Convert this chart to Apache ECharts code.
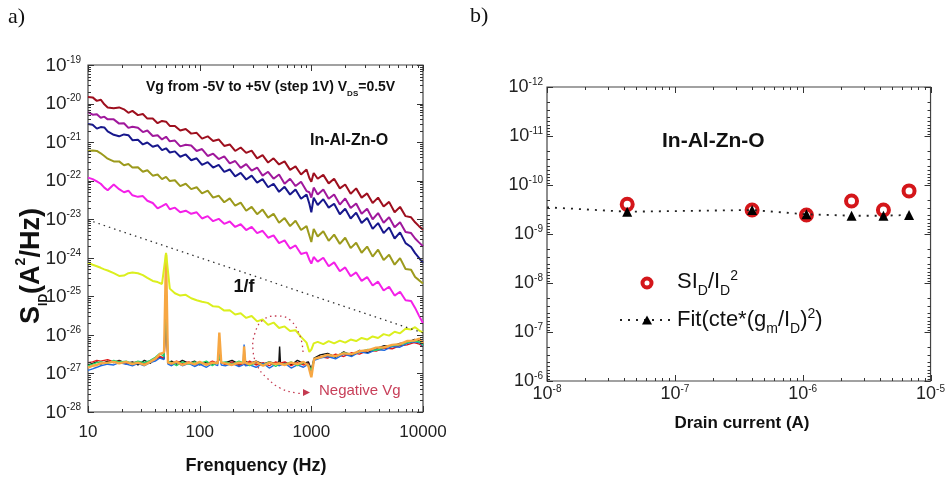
<!DOCTYPE html>
<html><head><meta charset="utf-8">
<script src="https://cdn.jsdelivr.net/npm/echarts@6/dist/echarts.min.js"></script>
<style>html,body{margin:0;padding:0;background:#fff}#c{width:948px;height:478px}</style>
</head><body><div id="c"></div><script>
// ===== DATA (panel a): frequency (Hz) and log10 of S_ID (A^2/Hz) =====
const FREQ = [10,11,12,13,14,15,17,19,21,23,25,28,31,34,38,42,46,50,54,60,67,75,84,94,105,118,132,148,166,186,208,233,261,292,327,366,410,459,514,576,645,722,809,906,960,1000,1050,1140,1280,1430,1600,1800,2010,2250,2520,2820,3160,3540,3960,4440,4970,5570,6230,6980,7820,8500,9200,10000];
const logS_darkred = [-19.83,-19.84,-19.93,-19.90,-20.02,-20.10,-20.12,-20.10,-20.15,-20.24,-20.19,-20.30,-20.27,-20.39,-20.39,-20.51,-20.45,-20.47,-20.58,-20.58,-20.70,-20.66,-20.78,-20.76,-20.91,-20.85,-20.97,-20.93,-21.10,-21.06,-21.23,-21.14,-21.28,-21.22,-21.42,-21.34,-21.53,-21.42,-21.58,-21.50,-21.72,-21.63,-21.84,-21.71,-21.93,-22.03,-21.80,-21.95,-21.85,-22.07,-21.95,-22.20,-22.10,-22.34,-22.20,-22.44,-22.33,-22.58,-22.44,-22.67,-22.55,-22.82,-22.68,-22.92,-22.95,-23.08,-23.18,-23.27];
const logS_purple = [-20.22,-20.29,-20.28,-20.37,-20.34,-20.41,-20.41,-20.52,-20.51,-20.63,-20.60,-20.63,-20.74,-20.70,-20.84,-20.82,-20.93,-20.86,-20.98,-20.96,-21.11,-21.07,-21.09,-21.23,-21.18,-21.36,-21.30,-21.44,-21.37,-21.55,-21.49,-21.67,-21.57,-21.74,-21.66,-21.87,-21.77,-21.95,-21.84,-22.08,-21.95,-22.14,-22.03,-22.27,-22.30,-22.44,-22.18,-22.36,-22.23,-22.47,-22.36,-22.62,-22.46,-22.71,-22.59,-22.86,-22.73,-23.00,-22.84,-23.09,-22.95,-23.21,-23.08,-23.33,-23.36,-23.50,-23.60,-23.70];
const logS_navy = [-20.53,-20.55,-20.65,-20.61,-20.62,-20.72,-20.81,-20.85,-20.80,-20.82,-20.95,-20.94,-21.06,-21.01,-21.12,-21.08,-21.21,-21.16,-21.27,-21.24,-21.38,-21.32,-21.47,-21.42,-21.59,-21.52,-21.66,-21.59,-21.77,-21.71,-21.89,-21.80,-21.97,-21.87,-22.05,-21.96,-22.17,-22.08,-22.29,-22.16,-22.36,-22.23,-22.47,-22.36,-22.60,-22.82,-22.44,-22.63,-22.48,-22.70,-22.60,-22.87,-22.73,-22.98,-22.83,-23.10,-22.97,-23.25,-23.10,-23.36,-23.21,-23.50,-23.34,-23.62,-23.72,-23.88,-24.00,-24.13];
const logS_olive = [-21.23,-21.22,-21.23,-21.29,-21.36,-21.43,-21.50,-21.50,-21.60,-21.57,-21.66,-21.65,-21.77,-21.73,-21.87,-21.84,-21.96,-21.90,-22.01,-21.99,-22.14,-22.08,-22.22,-22.17,-22.33,-22.26,-22.44,-22.39,-22.56,-22.46,-22.65,-22.57,-22.78,-22.68,-22.87,-22.75,-22.96,-22.86,-23.09,-22.97,-23.18,-23.04,-23.28,-23.18,-23.42,-23.59,-23.25,-23.45,-23.31,-23.56,-23.40,-23.64,-23.48,-23.75,-23.61,-23.87,-23.71,-23.97,-23.79,-24.06,-23.92,-24.18,-24.01,-24.29,-24.31,-24.50,-24.58,-24.67];
const logS_magenta = [-21.92,-21.96,-22.02,-22.08,-22.18,-22.25,-22.10,-22.22,-22.30,-22.26,-22.38,-22.42,-22.40,-22.52,-22.58,-22.72,-22.66,-22.60,-22.74,-22.70,-22.82,-22.78,-22.86,-22.82,-22.98,-22.92,-23.05,-22.99,-23.12,-23.06,-23.20,-23.13,-23.28,-23.20,-23.36,-23.30,-23.48,-23.42,-23.62,-23.55,-23.76,-23.68,-23.90,-23.86,-24.05,-24.15,-23.98,-24.10,-24.00,-24.22,-24.12,-24.35,-24.25,-24.48,-24.38,-24.60,-24.50,-24.72,-24.62,-24.85,-24.75,-24.98,-24.88,-25.10,-25.12,-25.30,-25.50,-25.70];
const logS_yellow = [-24.13,-24.18,-24.22,-24.26,-24.30,-24.33,-24.40,-24.47,-24.46,-24.40,-24.38,-24.40,-24.45,-24.52,-24.60,-24.63,-24.68,-23.87,-24.80,-24.92,-24.98,-24.96,-25.05,-25.10,-25.14,-25.17,-25.26,-25.27,-25.37,-25.36,-25.47,-25.44,-25.56,-25.51,-25.65,-25.60,-25.74,-25.68,-25.82,-25.78,-25.90,-25.88,-26.05,-26.20,-26.44,-26.38,-26.22,-26.18,-26.24,-26.16,-26.22,-26.15,-26.20,-26.12,-26.16,-26.08,-26.12,-26.04,-26.08,-25.98,-26.02,-25.92,-25.96,-25.84,-25.86,-25.80,-25.88,-25.94];
// negative Vg (noise floor) curves
const FREQ_FLOOR = [10,11,12,13,15,17,19,22,25,28,32,36,40,44,48,50,52,56,62,70,80,90,100,115,130,145,150,156,170,195,225,245,250,256,280,320,370,420,480,512,520,530,580,660,750,850,940,1000,1060,1200,1400,1650,1950,2300,2700,3200,3800,4500,5300,6200,7200,8300,9300,10000];
const logS_floor_black = [-26.78,-26.74,-26.70,-26.76,-26.68,-26.72,-26.66,-26.74,-26.70,-26.78,-26.66,-26.74,-26.60,-26.58,-26.62,-25.20,-26.74,-26.68,-26.76,-26.66,-26.74,-26.68,-26.78,-26.70,-26.76,-26.70,-26.50,-26.74,-26.72,-26.66,-26.76,-26.72,-26.70,-26.68,-26.74,-26.68,-26.76,-26.70,-26.74,-26.70,-26.30,-26.76,-26.72,-26.78,-26.66,-26.74,-26.70,-26.90,-26.60,-26.52,-26.48,-26.58,-26.44,-26.54,-26.40,-26.46,-26.36,-26.28,-26.30,-26.22,-26.20,-26.12,-26.14,-26.25];
const logS_floor_red = [-26.72,-26.70,-26.66,-26.68,-26.64,-26.70,-26.68,-26.76,-26.72,-26.70,-26.76,-26.68,-26.64,-26.56,-26.60,-25.50,-26.70,-26.76,-26.68,-26.74,-26.70,-26.78,-26.72,-26.76,-26.68,-26.74,-26.60,-26.70,-26.78,-26.70,-26.80,-26.74,-26.72,-26.78,-26.68,-26.78,-26.72,-26.80,-26.70,-26.74,-26.76,-26.70,-26.70,-26.80,-26.72,-26.78,-26.74,-26.95,-26.64,-26.56,-26.60,-26.50,-26.56,-26.46,-26.50,-26.40,-26.42,-26.34,-26.36,-26.28,-26.26,-26.20,-26.24,-26.30];
const logS_floor_blue = [-26.92,-26.88,-26.84,-26.80,-26.76,-26.78,-26.72,-26.76,-26.80,-26.74,-26.80,-26.72,-26.68,-26.60,-26.64,-24.60,-26.76,-26.80,-26.72,-26.80,-26.74,-26.82,-26.76,-26.84,-26.74,-26.80,-26.40,-26.78,-26.80,-26.74,-26.82,-26.78,-26.25,-26.80,-26.78,-26.84,-26.74,-26.86,-26.76,-26.80,-26.82,-26.76,-26.74,-26.86,-26.78,-26.84,-26.76,-27.00,-26.66,-26.60,-26.56,-26.62,-26.50,-26.56,-26.44,-26.48,-26.38,-26.40,-26.30,-26.32,-26.22,-26.18,-26.20,-26.28];
const logS_floor_green = [-26.80,-26.76,-26.72,-26.70,-26.74,-26.66,-26.70,-26.68,-26.74,-26.68,-26.72,-26.66,-26.58,-26.48,-26.56,-25.00,-26.68,-26.72,-26.80,-26.70,-26.76,-26.70,-26.74,-26.68,-26.80,-26.70,-26.56,-26.72,-26.70,-26.76,-26.68,-26.72,-26.74,-26.70,-26.80,-26.72,-26.78,-26.70,-26.82,-26.76,-26.72,-26.78,-26.76,-26.70,-26.80,-26.72,-26.78,-26.92,-26.62,-26.58,-26.52,-26.56,-26.46,-26.50,-26.44,-26.38,-26.40,-26.32,-26.28,-26.26,-26.20,-26.16,-26.18,-26.26];
const logS_floor_orange = [-26.85,-26.80,-26.78,-26.74,-26.72,-26.70,-26.74,-26.70,-26.76,-26.72,-26.78,-26.70,-26.62,-26.50,-26.45,-23.92,-26.72,-26.74,-26.70,-26.78,-26.72,-26.76,-26.70,-26.78,-26.72,-26.74,-25.94,-26.72,-26.74,-26.78,-26.72,-26.74,-26.30,-26.72,-26.76,-26.70,-26.80,-26.72,-26.76,-26.74,-26.70,-26.76,-26.78,-26.72,-26.76,-26.70,-26.80,-27.10,-26.62,-26.58,-26.52,-26.55,-26.48,-26.50,-26.42,-26.40,-26.33,-26.32,-26.26,-26.24,-26.16,-26.15,-26.10,-26.22];
// 1/f guide line
const ONE_OVER_F_FREQ = [10, 10000];
const ONE_OVER_F_LOGS = [-23.02, -25.95];
// ===== DATA (panel b) =====
const ID_MEAS = [4.24e-8, 4.02e-7, 1.07e-6, 2.41e-6, 4.28e-6, 6.79e-6];
const SID_OVER_ID2 = [2.48e-10, 3.24e-10, 4.09e-10, 2.12e-10, 3.24e-10, 1.32e-10];
const FIT_ID = [1e-8, 4.24e-8, 4.02e-7, 1.07e-6, 2.41e-6, 4.28e-6, 6.79e-6];
const FIT_VAL = [2.85e-10, 3.51e-10, 3.24e-10, 3.96e-10, 4.24e-10, 4.24e-10, 4.09e-10];
// tick ranges (decades)
const A_X_DECADES = [1, 4];     // 10 .. 10000 Hz
const A_Y_DECADES = [-28, -19];
const B_X_DECADES = [-8, -5];
const B_Y_DECADES = [-12, -6];

// ===== CHART =====
const FF = '"Liberation Sans", Arial, sans-serif';
const L10 = Math.log10;
const chart = echarts.init(document.getElementById('c'), null, {renderer: 'canvas'});

function curve(fr, logs, color, width, z) {
  return {type: 'line', xAxisIndex: 0, yAxisIndex: 0, data: fr.map((f, i) => [L10(f), logs[i]]),
    showSymbol: false, symbol: 'none', lineStyle: {color: color, width: width}, z: z, silent: true, animation: false};
}
function tickItems(dec, ref) {
  const out = [];
  for (let d = dec[0]; d <= dec[1]; d++) {
    out.push([d, ref, 6]);
    if (d < dec[1]) for (let m = 2; m <= 9; m++) out.push([d + L10(m), ref, 3]);
  }
  return out;
}
function tickLine(x1, y1, x2, y2) {
  return {type: 'line', shape: {x1, y1, x2, y2}, style: {stroke: '#333', lineWidth: 1}};
}
function xTicks(params, api) {
  const cs = params.coordSys;
  const px = Math.round(api.coord([api.value(0), api.value(1)])[0]) + 0.5;
  const L = api.value(2), b = cs.y + cs.height;
  return {type: 'group', children: [tickLine(px, b, px, b - L), tickLine(px, cs.y, px, cs.y + L)]};
}
function yTicks(params, api) {
  const cs = params.coordSys;
  const py = Math.round(api.coord([api.value(1), api.value(0)])[1]) + 0.5;
  const L = api.value(2), r = cs.x + cs.width;
  return {type: 'group', children: [tickLine(cs.x, py, cs.x + L, py), tickLine(r, py, r - L, py)]};
}
function customTicks(xi, items, fn) {
  return {type: 'custom', xAxisIndex: xi, yAxisIndex: xi, silent: true, animation: false, clip: false, z: 20,
    renderItem: fn, data: items, encode: fn === xTicks ? {x: 0, y: 1} : {x: 1, y: 0}};
}
const supRich = (bs, ss, up) => ({
  b: {fontSize: bs, fontFamily: FF, color: '#222', verticalAlign: 'bottom'},
  s: {fontSize: ss, fontFamily: FF, color: '#222', verticalAlign: 'bottom', padding: [0, 0, up, 0]}
});
const supFmt = v => '{b|10}{s|' + Math.round(v) + '}';
const RED = '#d4161a';

const option = {
  animation: false,
  backgroundColor: '#fff',
  grid: [
    {left: 88, top: 65, width: 335, height: 347, show: true, borderColor: '#444', borderWidth: 1.2, backgroundColor: 'transparent'},
    {left: 547, top: 87, width: 389, height: 294, show: true, borderColor: '#444', borderWidth: 1.2, backgroundColor: 'transparent'}
  ],
  xAxis: [
    {gridIndex: 0, type: 'value', min: A_X_DECADES[0], max: A_X_DECADES[1], interval: 1,
      axisLine: {show: false}, axisTick: {show: false}, splitLine: {show: false},
      axisLabel: {margin: 12, fontSize: 17, color: '#222', fontFamily: FF, formatter: v => String(Math.round(Math.pow(10, v)))}},
    {gridIndex: 1, type: 'value', min: B_X_DECADES[0], max: B_X_DECADES[1], interval: 1,
      axisLine: {show: false}, axisTick: {show: false}, splitLine: {show: false},
      axisLabel: {margin: 3, formatter: supFmt, rich: supRich(18, 10, 9)}}
  ],
  yAxis: [
    {gridIndex: 0, type: 'value', min: A_Y_DECADES[0], max: A_Y_DECADES[1], interval: 1,
      axisLine: {show: false}, axisTick: {show: false}, splitLine: {show: false},
      axisLabel: {margin: 7, formatter: supFmt, rich: supRich(19, 10, 10)}},
    {gridIndex: 1, type: 'value', min: B_Y_DECADES[0], max: B_Y_DECADES[1], interval: 1, inverse: true,
      axisLine: {show: false}, axisTick: {show: false}, splitLine: {show: false},
      axisLabel: {margin: 4, formatter: supFmt, rich: supRich(18, 10, 9)}}
  ],
  series: [
    curve(FREQ_FLOOR, logS_floor_black, '#111111', 1.4, 2),
    curve(FREQ_FLOOR, logS_floor_red, '#e01818', 1.4, 2),
    curve(FREQ_FLOOR, logS_floor_blue, '#1f6be0', 1.4, 2),
    curve(FREQ_FLOOR, logS_floor_green, '#24d86a', 1.4, 2),
    curve(FREQ_FLOOR, logS_floor_orange, '#f7a743', 2.4, 3),
    curve(FREQ, logS_yellow, '#dbef1e', 2, 4),
    curve(FREQ, logS_magenta, '#f420e8', 2, 5),
    curve(FREQ, logS_olive, '#9c9a1c', 2, 5),
    curve(FREQ, logS_navy, '#17178c', 2, 5),
    curve(FREQ, logS_purple, '#a0189c', 2, 5),
    curve(FREQ, logS_darkred, '#9e0f1e', 2, 5),
    {type: 'line', xAxisIndex: 0, yAxisIndex: 0, data: ONE_OVER_F_FREQ.map((f, i) => [L10(f), ONE_OVER_F_LOGS[i]]),
      symbol: 'none', lineStyle: {color: '#333', width: 1.3, type: [1.5, 4]}, z: 6, silent: true},
    // panel b
    {type: 'line', xAxisIndex: 1, yAxisIndex: 1,
      data: FIT_ID.map((x, i) => ({value: [L10(x), L10(FIT_VAL[i])], symbol: i === 0 ? 'none' : 'triangle'})),
      symbol: 'triangle', symbolSize: 10, showSymbol: true, itemStyle: {color: '#000', opacity: 1},
      lineStyle: {color: '#222', width: 1.8, type: [2, 6]}, z: 6, silent: true},
    {type: 'scatter', xAxisIndex: 1, yAxisIndex: 1,
      data: ID_MEAS.map((x, i) => [L10(x), L10(SID_OVER_ID2[i])]),
      symbol: 'circle', symbolSize: 11, itemStyle: {color: 'rgba(255,255,255,0)', borderColor: RED, borderWidth: 4, opacity: 1}, z: 5, silent: true},
    // ticks
    customTicks(0, tickItems(A_X_DECADES, A_Y_DECADES[0]), xTicks),
    customTicks(0, tickItems(A_Y_DECADES, A_X_DECADES[0]), yTicks),
    customTicks(1, tickItems(B_X_DECADES, B_Y_DECADES[0]), xTicks),
    customTicks(1, tickItems(B_Y_DECADES, B_X_DECADES[0]), yTicks)
  ],
  graphic: [
    {type: 'text', x: 8, y: 6, style: {text: 'a)', font: '22px "Liberation Serif", "Times New Roman", serif', fill: '#111'}},
    {type: 'text', x: 470, y: 5, style: {text: 'b)', font: '22px "Liberation Serif", "Times New Roman", serif', fill: '#111'}},
    {type: 'text', x: 32, y: 266, rotation: Math.PI / 2, style: {
      text: '{a|S}{b|ID}{a|(A}{c|2}{a|/Hz)}', align: 'center', verticalAlign: 'middle',
      rich: {
        a: {fontSize: 27, fontWeight: 'bold', fontFamily: FF, fill: '#111', verticalAlign: 'bottom', padding: [0, 0, 4, 0]},
        b: {fontSize: 12, fontWeight: 'bold', fontFamily: FF, fill: '#111', verticalAlign: 'bottom'},
        c: {fontSize: 14, fontWeight: 'bold', fontFamily: FF, fill: '#111', verticalAlign: 'bottom', padding: [0, 0, 21, 0]}
      }}},
    {type: 'text', x: 256, y: 466, style: {text: 'Frenquency (Hz)', align: 'center', verticalAlign: 'middle', font: 'bold 18px ' + FF, fill: '#111'}},
    {type: 'text', x: 146, y: 89, style: {
      text: '{a|Vg from -5V to +5V (step 1V) V}{b|DS}{a|=0.5V}', verticalAlign: 'middle',
      rich: {
        a: {fontSize: 14, fontWeight: 'bold', fontFamily: FF, fill: '#111', verticalAlign: 'bottom', padding: [0, 0, 3, 0]},
        b: {fontSize: 8, fontWeight: 'bold', fontFamily: FF, fill: '#111', verticalAlign: 'bottom'}
      }}},
    {type: 'text', x: 310, y: 141, style: {text: 'In-Al-Zn-O', verticalAlign: 'middle', font: 'bold 16px ' + FF, fill: '#111'}},
    {type: 'text', x: 244, y: 287, style: {text: '1/f', align: 'center', verticalAlign: 'middle', font: 'bold 18px ' + FF, fill: '#111'}},
    {type: 'polyline', z: 30, shape: {smooth: 0.45, points: [[303, 352], [300, 336], [290, 320], [277, 316], [263, 320], [255, 333], [253, 350], [258, 367], [267, 378], [280, 388], [296, 393], [304, 393]]},
      style: {stroke: '#c43a50', lineWidth: 1.3, lineDash: [1.5, 3.5], fill: null}},
    {type: 'polygon', z: 30, shape: {points: [[303, 389], [310, 392.5], [303, 396]]}, style: {fill: '#c43a50'}},
    {type: 'text', x: 319, y: 391, style: {text: 'Negative Vg', verticalAlign: 'middle', font: '15px ' + FF, fill: '#c8405a'}},
    // panel b texts
    {type: 'text', x: 742, y: 423, style: {text: 'Drain current (A)', align: 'center', verticalAlign: 'middle', font: 'bold 17px ' + FF, fill: '#111'}},
    {type: 'text', x: 662, y: 141, style: {text: 'In-Al-Zn-O', verticalAlign: 'middle', font: 'bold 21px ' + FF, fill: '#111'}},
    {type: 'circle', z: 30, shape: {cx: 647, cy: 283, r: 4.5}, style: {fill: '#fff', stroke: RED, lineWidth: 4}},
    {type: 'text', x: 677, y: 284, style: {
      text: '{a|SI}{b|D}{a|/I}{b|D}{c|2}', verticalAlign: 'middle',
      rich: {
        a: {fontSize: 22, fontFamily: FF, fill: '#111', verticalAlign: 'bottom', padding: [0, 0, 6, 0]},
        b: {fontSize: 14, fontFamily: FF, fill: '#111', verticalAlign: 'bottom'},
        c: {fontSize: 14, fontFamily: FF, fill: '#111', verticalAlign: 'bottom', padding: [0, 0, 15, 0]}
      }}},
    {type: 'line', z: 30, shape: {x1: 620, y1: 320, x2: 674, y2: 320}, style: {stroke: '#222', lineWidth: 1.8, lineDash: [2, 6]}},
    {type: 'polygon', z: 31, shape: {points: [[642, 324.5], [647, 315.5], [652, 324.5]]}, style: {fill: '#000'}},
    {type: 'text', x: 677, y: 322, style: {
      text: '{a|Fit(cte*(g}{b|m}{a|/I}{b|D}{a|)}{c|2}{a|)}', verticalAlign: 'middle',
      rich: {
        a: {fontSize: 22, fontFamily: FF, fill: '#111', verticalAlign: 'bottom', padding: [0, 0, 6, 0]},
        b: {fontSize: 14, fontFamily: FF, fill: '#111', verticalAlign: 'bottom'},
        c: {fontSize: 14, fontFamily: FF, fill: '#111', verticalAlign: 'bottom', padding: [0, 0, 15, 0]}
      }}}
  ]
};
chart.setOption(option);
</script></body></html>
